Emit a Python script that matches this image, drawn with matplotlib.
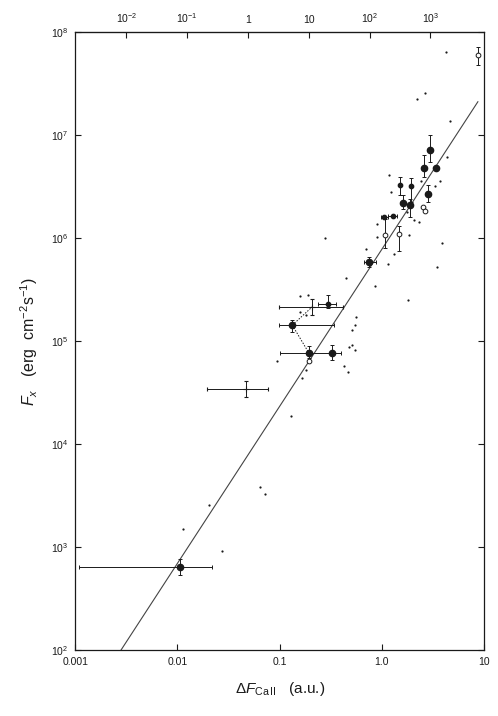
import numpy as np
import matplotlib
matplotlib.use("Agg")
import matplotlib.pyplot as plt
from matplotlib.ticker import FixedLocator, FixedFormatter, NullLocator

plt.rcParams["font.family"] = ["Liberation Sans", "DejaVu Sans"]
plt.rcParams["mathtext.fontset"] = "custom"
plt.rcParams["mathtext.rm"] = "Liberation Sans"
plt.rcParams["mathtext.it"] = "Liberation Sans:italic"

# --- data -----------------------------------------------------------------
# small dots, no error bars
dot_x = [0.0204, 0.01125, 0.027, 0.0638, 0.072, 0.128, 0.166, 0.18, 0.43, 0.47,
         0.474, 0.51, 0.55, 0.512, 0.552, 0.56, 0.448, 0.865, 0.159, 0.189,
         0.159, 0.18, 0.095, 0.275, 0.89, 0.70, 1.14, 0.90, 4.2, 2.67, 2.2,
         4.6, 4.3, 3.9, 3.5, 1.8, 1.18, 1.23, 1.32, 2.07, 2.3, 3.7, 3.3, 2.4,
         1.75, 1.84]
dot_y = [2560, 1500, 920, 3850, 3300, 1.87e4, 4.4e4, 5.3e4, 5.7e4, 5.0e4,
         8.8e4, 9.1e4, 8.3e4, 1.28e5, 1.44e5, 1.7e5, 4.1e5, 3.4e5, 2.73e5, 2.8e5,
         1.9e5, 1.79e5, 6.4e4, 1.0e6, 1.37e6, 7.9e5, 5.6e5, 1.03e6, 6.4e7, 2.57e7,
         2.24e7, 1.38e7, 6.2e6, 9.0e5, 5.2e5, 2.5e5, 4.1e6, 2.8e6, 7.0e5, 1.5e6,
         1.45e6, 3.6e6, 3.2e6, 3.6e6, 1.8e6, 1.07e6]

# filled circles: value, x low/high, y low/high (None = no bar)
fill_x = [0.0107, 0.755, 2.97, 2.6, 3.4, 2.84, 1.6, 1.88, 0.133, 0.193, 0.327]
fill_y = [645, 5.9e5, 7.2e6, 4.8e6, 4.8e6, 2.7e6, 2.2e6, 2.1e6, 1.43e5, 7.7e4, 7.7e4]
fill_xlo = [0.00108, 0.675, None, None, None, None, None, None, 0.098, 0.100, None]
fill_xhi = [0.022, 0.883, None, None, None, None, None, None, 0.344, 0.400, None]
fill_ylo = [535, 5.25e5, 5.5e6, 3.9e6, None, 2.24e6, 1.9e6, 1.6e6, 1.23e5, 6.9e4, 6.6e4]
fill_yhi = [760, 6.5e5, 1.0e7, 6.4e6, None, 3.27e6, 2.6e6, 2.4e6, 1.62e5, 8.9e4, 9.2e4]

# smaller filled circles
sm_x = [1.52, 1.92, 1.06, 1.30, 0.296]
sm_y = [3.3e6, 3.2e6, 1.6e6, 1.65e6, 2.32e5]
sm_xlo = [None, None, 0.98, 1.15, 0.236]
sm_xhi = [None, None, 1.15, 1.40, 0.36]
sm_ylo = [2.6e6, 2.24e6, None, None, 2.09e5]
sm_yhi = [3.9e6, 3.8e6, None, None, 2.8e5]

# open circles
open_x = [8.8, 1.08, 1.48, 0.193, 2.5, 2.62]
open_y = [6.0e7, 1.07e6, 1.1e6, 6.4e4, 2.0e6, 1.85e6]
open_ylo = [4.8e7, 8.0e5, 7.5e5, None, None, None]
open_yhi = [7.2e7, 1.55e6, 1.31e6, None, None, None]

# plus markers
plus_x = [0.0466, 0.208]
plus_y = [3.4e4, 2.15e5]
plus_xlo = [0.0193, 0.098]
plus_xhi = [0.0769, 0.42]
plus_ylo = [2.88e4, 1.79e5]
plus_yhi = [4.1e4, 2.54e5]

# dotted links between observations of the same star (index into fill / plus)
links = [(("fill", 8), ("plus", 1)), (("fill", 8), ("fill", 9))]

# power-law fit F_x = norm * dF^slope
fit_norm = 7.8e5
fit_slope = 1.525
fit_range = (0.00281, 8.7)

# top axis: second flux scale
top_ticks = [1e-2, 1e-1, 1, 10, 1e2, 1e3]
top_labels = ["$10^{-2}$", "$10^{-1}$", "1", "10", "$10^{2}$", "$10^{3}$"]
top_k, top_c = 1.68, 1.31

bot_ticks = [0.001, 0.01, 0.1, 1.0, 10]
bot_labels = ["0.001", "0.01", "0.1", "1.0", "10"]
left_ticks = [1e2, 1e3, 1e4, 1e5, 1e6, 1e7, 1e8]


def _err(v, lo, hi):
    lo = [0 if l is None else vv - l for vv, l in zip(v, lo)]
    hi = [0 if h is None else h - vv for vv, h in zip(v, hi)]
    return np.array([lo, hi])


fig = plt.figure(figsize=(4.98, 7.16), dpi=100)
ax = fig.add_axes([0.151, 0.092, 0.821, 0.863])
ax.set_xscale("log")
ax.set_yscale("log")
ax.set_xlim(0.001, 10)
ax.set_ylim(1e2, 1e8)

ink = "#1a1a1a"
ebkw = dict(ecolor=ink, elinewidth=0.7, capsize=1.4, capthick=0.7, ls="none")

# fit line
fx = np.logspace(np.log10(fit_range[0]), np.log10(fit_range[1]), 50)
ax.plot(fx, fit_norm * fx ** fit_slope, color="#444444", lw=0.8, zorder=1)

# dotted links
pts = {"fill": (fill_x, fill_y), "plus": (plus_x, plus_y)}
for (ga, ia), (gb, ib) in links:
    ax.plot([pts[ga][0][ia], pts[gb][0][ib]], [pts[ga][1][ia], pts[gb][1][ib]],
            color=ink, lw=0.7, ls=(0, (1.5, 1.5)), zorder=2)

ax.plot(dot_x, dot_y, "o", ms=1.6, color=ink, mec="none", zorder=3)

ax.errorbar(fill_x, fill_y, xerr=_err(fill_x, fill_xlo, fill_xhi),
            yerr=_err(fill_y, fill_ylo, fill_yhi), fmt="o", ms=4.5,
            mfc=ink, mec=ink, zorder=4, **ebkw)
ax.errorbar(sm_x, sm_y, xerr=_err(sm_x, sm_xlo, sm_xhi),
            yerr=_err(sm_y, sm_ylo, sm_yhi), fmt="o", ms=3.1,
            mfc=ink, mec=ink, zorder=4, **ebkw)
ax.errorbar(open_x, open_y, yerr=_err(open_y, open_ylo, open_yhi), fmt="o",
            ms=3.4, mfc="white", mec=ink, mew=0.7, zorder=4, **ebkw)
ax.errorbar(plus_x, plus_y, xerr=_err(plus_x, plus_xlo, plus_xhi),
            yerr=_err(plus_y, plus_ylo, plus_yhi), fmt="+", ms=4,
            color=ink, mew=0.8, zorder=4, **ebkw)

# axes styling
ax.xaxis.set_major_locator(FixedLocator(bot_ticks))
ax.xaxis.set_major_formatter(FixedFormatter(bot_labels))
ax.xaxis.set_minor_locator(NullLocator())
ax.yaxis.set_major_locator(FixedLocator(left_ticks))
ax.yaxis.set_minor_locator(NullLocator())
ax.tick_params(which="major", direction="in", length=4, width=0.8,
               labelsize=7.5, right=True, colors=ink, pad=5)
for s in ax.spines.values():
    s.set_linewidth(0.9)
    s.set_color(ink)


def fwd(x):
    return 10 ** (top_k * (np.log10(x) + top_c))


def inv(t):
    return 10 ** (np.log10(t) / top_k - top_c)


sec = ax.secondary_xaxis("top", functions=(fwd, inv))
sec.xaxis.set_major_locator(FixedLocator(top_ticks))
sec.xaxis.set_major_formatter(FixedFormatter(top_labels))
sec.xaxis.set_minor_locator(NullLocator())
sec.tick_params(direction="in", length=4, width=0.8, labelsize=7.5, colors=ink, pad=5)

ax.set_xlabel(r"$\Delta F_{\mathrm{Ca\,II}}$   (a.u.)", fontsize=11, color=ink, labelpad=9)
ax.set_ylabel(r"$F_x$   (erg  cm$^{-2}$s$^{-1}$)", fontsize=11.5, color=ink, labelpad=8)

fig.savefig("out.png", dpi=100)
